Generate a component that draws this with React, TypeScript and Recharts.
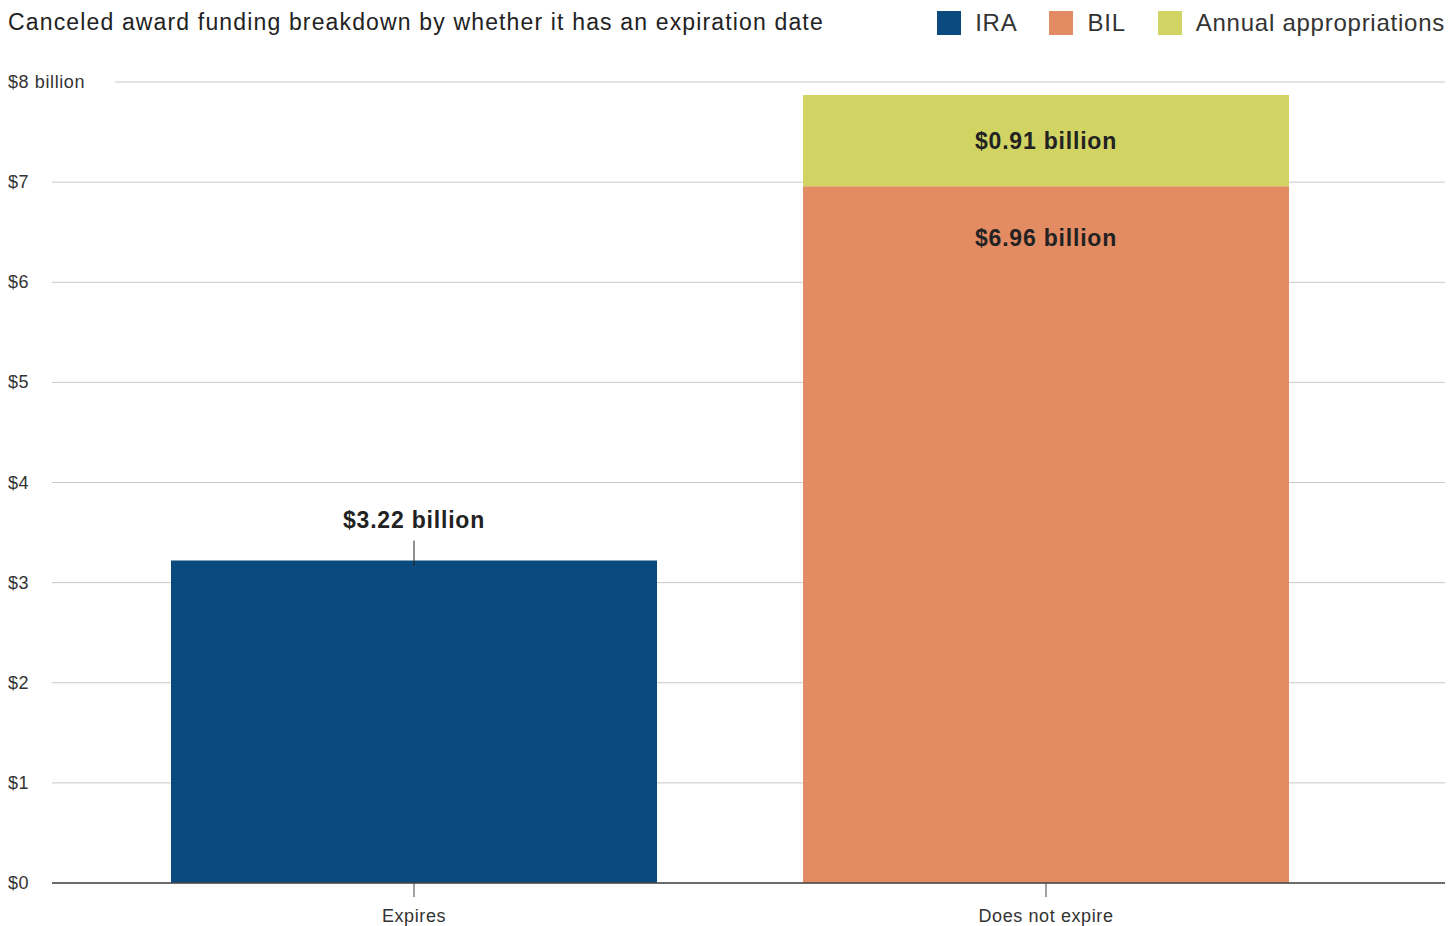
import React from "react";
import {
  ComposedChart,
  Bar,
  XAxis,
  YAxis,
  CartesianGrid,
  LabelList,
} from "recharts";

const categories = ["Expires", "Does not expire"];
const iraValues = [3.22, null];
const bilValues = [null, 6.96];
const annualValues = [null, 0.91];
const yTicks = [0, 1, 2, 3, 4, 5, 6, 7, 8];

const seriesNames = ["IRA", "BIL", "Annual appropriations"];
const colors = ["#0b4a7e", "#e38b63", "#d1d462"];

const FONT = '"Liberation Sans", Arial, Helvetica, sans-serif';

const data = categories.map((name, i) => ({
  name,
  ira: iraValues[i],
  bil: bilValues[i],
  annual: annualValues[i],
}));

function fmtBillion(v: number) {
  return `$${v.toFixed(2)} billion`;
}

function YTick(props: any) {
  const { y, payload } = props;
  const v = payload.value;
  const top = v === 8;
  return (
    <g>
      {top && <rect x={44} y={y - 4} width={71} height={8} fill="#fff" />}
      <text
        x={8}
        y={y}
        dy={6}
        textAnchor="start"
        fontSize={18}
        letterSpacing={0.6}
        fill="#333"
        fontFamily={FONT}
      >
        {top ? `$${v} billion` : `$${v}`}
      </text>
    </g>
  );
}

function XTick(props: any) {
  const { x, y, payload } = props;
  return (
    <text
      x={x}
      y={y}
      dy={19}
      textAnchor="middle"
      fontSize={18}
      letterSpacing={0.6}
      fill="#333"
      fontFamily={FONT}
    >
      {payload.value}
    </text>
  );
}

function AboveLabel(props: any) {
  const { x, y, width, value } = props;
  if (value == null) return null;
  const cx = x + width / 2;
  return (
    <g>
      <line x1={cx} x2={cx} y1={y - 20} y2={y + 5} stroke="#222" strokeWidth={1} />
      <text
        x={cx}
        y={y - 33}
        textAnchor="middle"
        fontSize={23}
        letterSpacing={0.8}
        fontWeight="bold"
        fill="#222"
        fontFamily={FONT}
      >
        {fmtBillion(value)}
      </text>
    </g>
  );
}

function TopInsideLabel(props: any) {
  const { x, y, width, value } = props;
  if (value == null) return null;
  return (
    <text
      x={x + width / 2}
      y={y + 60}
      textAnchor="middle"
      fontSize={23}
      letterSpacing={0.8}
      fontWeight="bold"
      fill="#222"
      fontFamily={FONT}
    >
      {fmtBillion(value)}
    </text>
  );
}

function CenterLabel(props: any) {
  const { x, y, width, height, value } = props;
  if (value == null) return null;
  return (
    <text
      x={x + width / 2}
      y={y + height / 2 + 8}
      textAnchor="middle"
      fontSize={23}
      letterSpacing={0.8}
      fontWeight="bold"
      fill="#222"
      fontFamily={FONT}
    >
      {fmtBillion(value)}
    </text>
  );
}

export default function App() {
  return (
    <div
      style={{
        position: "absolute",
        left: 0,
        top: 0,
        width: 1450,
        height: 926,
        background: "#fff",
        fontFamily: FONT,
      }}
    >
      <div
        style={{
          position: "absolute",
          left: 8,
          top: 8,
          fontSize: 23,
          letterSpacing: 1.15,
          color: "#222",
          lineHeight: "28px",
          whiteSpace: "nowrap",
        }}
      >
        Canceled award funding breakdown by whether it has an expiration date
      </div>
      <div
        style={{
          position: "absolute",
          right: 5,
          top: 9,
          display: "flex",
          alignItems: "center",
          fontSize: 24,
          letterSpacing: 0.75,
          color: "#333",
          lineHeight: "28px",
          whiteSpace: "nowrap",
        }}
      >
        {seriesNames.map((s, i) => (
          <div
            key={s}
            style={{ display: "flex", alignItems: "center", marginLeft: i === 0 ? 0 : 32 }}
          >
            <span
              style={{
                display: "inline-block",
                width: 24,
                height: 24,
                background: colors[i],
                marginRight: 14,
              }}
            />
            <span>{s}</span>
          </div>
        ))}
      </div>
      <ComposedChart
        width={1450}
        height={926}
        data={data}
        margin={{ top: 82, right: 5, bottom: 0, left: 8 }}
        style={{ position: "absolute", left: 0, top: 0 }}
      >
        <CartesianGrid vertical={false} stroke="#c8c8c8" strokeWidth={1} />
        <YAxis
          width={44}
          domain={[0, 8]}
          ticks={yTicks}
          axisLine={false}
          tickLine={false}
          tick={<YTick />}
          interval={0}
        />
        <XAxis
          dataKey="name"
          height={43}
          padding={{ left: 46, right: 83 }}
          axisLine={{ stroke: "#444", strokeWidth: 1.5 }}
          tickLine={{ stroke: "#444" }}
          tickSize={14}
          tickMargin={6}
          tick={<XTick />}
        />
        <Bar dataKey="ira" stackId="a" fill={colors[0]} barSize={486} isAnimationActive={false}>
          <LabelList dataKey="ira" content={<AboveLabel />} />
        </Bar>
        <Bar dataKey="bil" stackId="a" fill={colors[1]} barSize={486} isAnimationActive={false}>
          <LabelList dataKey="bil" content={<TopInsideLabel />} />
        </Bar>
        <Bar dataKey="annual" stackId="a" fill={colors[2]} barSize={486} isAnimationActive={false}>
          <LabelList dataKey="annual" content={<CenterLabel />} />
        </Bar>
      </ComposedChart>
    </div>
  );
}
